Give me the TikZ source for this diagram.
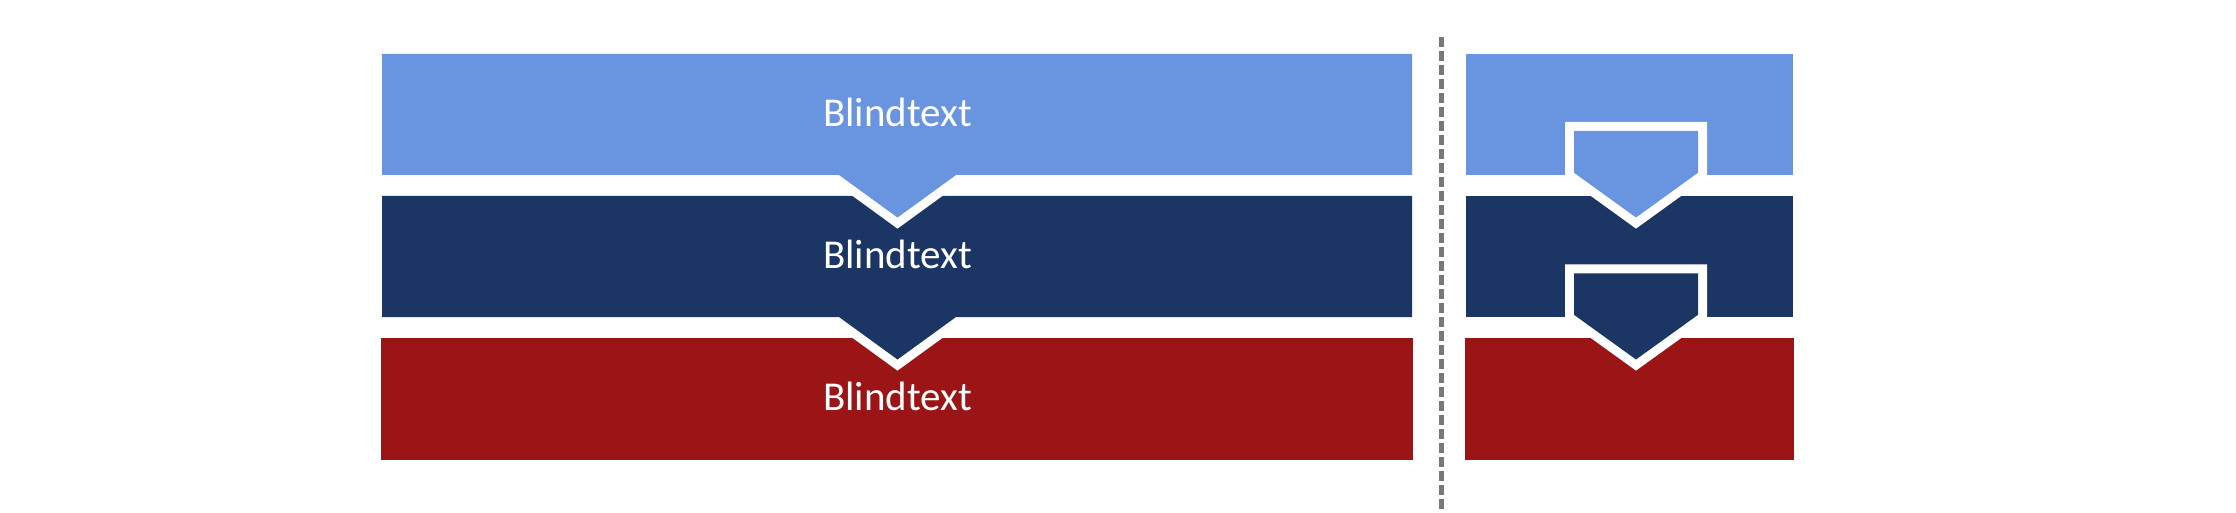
\documentclass[tikz,border=0pt]{standalone}
\usepackage{fontspec}
\setmainfont{Carlito}
\definecolor{lblue}{HTML}{6894E0}
\definecolor{cdark}{HTML}{1B3664}
\definecolor{cred}{HTML}{9B1517}
\definecolor{sepgray}{HTML}{787878}
\begin{document}
\begin{tikzpicture}[x=1pt,y=-1pt,
  halo/.style={preaction={draw=white,line width=18pt,line join=miter}},
  btext/.style={text=white,font=\fontsize{41}{49}\selectfont,anchor=base,inner sep=0pt},
  sepline/.style={draw=sepgray,line width=4.4pt,dash pattern=on 10.4pt off 3.6pt}]
\useasboundingbox (0,0) rectangle (2236,513);
% left column
\fill[cred] (381,338) rectangle (1413,460);
\path[halo, fill=cdark] (382,196) -- (1412,196) -- (1412,317) -- (956,317) -- (897.5,359.5) -- (839,317) -- (382,317) -- cycle;
\path[halo, fill=lblue] (382,54) -- (1412,54) -- (1412,175) -- (956,175) -- (897.5,217.5) -- (839,175) -- (382,175) -- cycle;
\node[btext] (t1) at (897.5,126.5) {Blindtext};
\node[btext] (t2) at (897.5,268.5) {Blindtext};
\node[btext] (t3) at (897.5,410.5) {Blindtext};
% separator
\coordinate (sepTop) at (1441.5,37);
\coordinate (sepBot) at (1441.5,510);
\draw[sepline] (sepTop) -- (sepBot);
% right column
\fill[cred] (1465,338) rectangle (1794,460);
\fill[cdark] (1466,196) rectangle (1793,317);
\path[halo, fill=cdark] (1574,273.3) -- (1698,273.3) -- (1698,314.8) -- (1636,359.5) -- (1574,314.8) -- cycle;
\fill[lblue] (1466,54) rectangle (1793,175);
\path[halo, fill=lblue] (1574,131) -- (1698,131) -- (1698,172.7) -- (1636,217.5) -- (1574,172.7) -- cycle;
\end{tikzpicture}
\end{document}
